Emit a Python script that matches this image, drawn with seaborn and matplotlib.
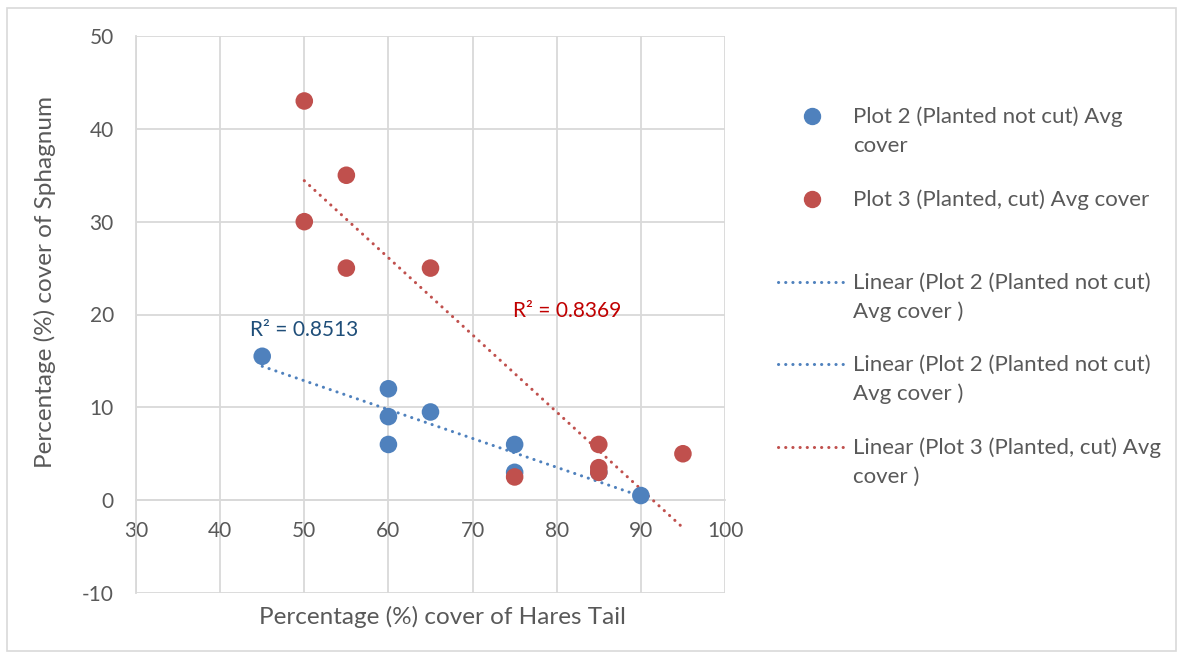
import matplotlib
matplotlib.use("Agg")
import matplotlib.pyplot as plt
import seaborn as sns
import pandas as pd
import numpy as np
from matplotlib.lines import Line2D
from matplotlib.patches import Rectangle

# Data
plot2_x = [45, 60, 60, 60, 65, 75, 75, 85, 90]
plot2_y = [15.5, 12, 9, 6, 9.5, 6, 3, 3, 0.5]
plot3_x = [50, 50, 55, 55, 65, 75, 85, 85, 85, 95]
plot3_y = [43, 30, 35, 25, 25, 2.5, 6, 3.5, 3, 5]
r2_plot2 = "R² = 0.8513"
r2_plot3 = "R² = 0.8369"
x_ticks = [30, 40, 50, 60, 70, 80, 90, 100]
y_ticks = [-10, 0, 10, 20, 30, 40, 50]
legend_labels = [
    "Plot 2 (Planted not cut) Avg\ncover",
    "Plot 3 (Planted, cut) Avg cover",
    "Linear (Plot 2 (Planted not cut)\nAvg cover )",
    "Linear (Plot 2 (Planted not cut)\nAvg cover )",
    "Linear (Plot 3 (Planted, cut) Avg\ncover )",
]

BLUE = "#4F81BD"
RED = "#C0504D"
GRAY = "#595959"
GRID = "#D9D9D9"

sns.set_style("white")
plt.rcParams['font.family'] = ['Lato', 'DejaVu Sans']
plt.rcParams['axes.unicode_minus'] = False

df2 = pd.DataFrame({"x": plot2_x, "y": plot2_y})
df3 = pd.DataFrame({"x": plot3_x, "y": plot3_y})

W, H = 1182, 658
fig = plt.figure(figsize=(W/100, H/100), dpi=100)
ax = fig.add_axes([136/W, 1-593/H, (725-136)/W, (593-36)/H])

dotted = (0, (0.05, 2.3))
sns.regplot(data=df2, x="x", y="y", scatter=False, ci=None, truncate=True, ax=ax,
            line_kws=dict(color=BLUE, lw=2.2, linestyle=dotted, dash_capstyle='round', zorder=3))
sns.regplot(data=df3, x="x", y="y", scatter=False, ci=None, truncate=True, ax=ax,
            line_kws=dict(color=RED, lw=2.2, linestyle=dotted, dash_capstyle='round', zorder=3))
sns.scatterplot(data=df2, x="x", y="y", color=BLUE, s=160, edgecolor="none", ax=ax, zorder=4)
sns.scatterplot(data=df3, x="x", y="y", color=RED, s=160, edgecolor="none", ax=ax, zorder=5)

ax.set_xlim(30, 100)
ax.set_ylim(-10, 50)
ax.set_xticks(x_ticks)
ax.set_yticks(y_ticks)
ax.grid(True, color=GRID, lw=1.3)
ax.set_axisbelow(True)
for s in ["top", "right"]:
    ax.spines[s].set_visible(False)
ax.spines["left"].set_color(GRID)
ax.spines["left"].set_linewidth(1.3)
ax.spines["bottom"].set_position(("data", 0))
ax.spines["bottom"].set_color(GRID)
ax.spines["bottom"].set_linewidth(1.3)
ax.tick_params(axis="both", length=0, labelsize=15, labelcolor=GRAY)
ax.tick_params(axis="x", pad=15)
ax.tick_params(axis="y", pad=16)

ax.set_xlabel("Percentage (%) cover of Hares Tail", fontsize=17.5, color=GRAY)
ax.set_ylabel("Percentage (%) cover of Sphagnum", fontsize=17.5, color=GRAY)
ax.xaxis.set_label_coords(0.52, -0.043)
ax.xaxis.label.set_va("center")
ax.yaxis.set_label_coords(-0.155, 0.558)
ax.yaxis.label.set_va("center")

ax.text(43.6, 18.3, r2_plot2, color="#1F4E79", fontsize=15, va="center", ha="left")
ax.text(74.8, 20.4, r2_plot3, color="#C00000", fontsize=15, va="center", ha="left")

# Legend (drawn manually to mimic Excel layout)
handle_specs = [
    ("marker", BLUE),
    ("marker", RED),
    ("line", BLUE),
    ("line", BLUE),
    ("line", RED),
]
entry_y = [116, 199, 282, 364, 447]
line_gap = 29
for (kind, col), label, ypx in zip(handle_specs, legend_labels, entry_y):
    yf = 1 - ypx / H
    if kind == "marker":
        fig.add_artist(Line2D([812/W], [yf], marker="o", color=col, linestyle="none",
                              markersize=11.5, transform=fig.transFigure))
    else:
        fig.add_artist(Line2D([778/W, 846/W], [yf, yf], color=col, lw=2.2,
                              linestyle=dotted, dash_capstyle='round',
                              transform=fig.transFigure))
    for i, line in enumerate(label.split("\n")):
        fig.text(853/W, 1 - (ypx + i*line_gap + 1)/H, line, fontsize=16, color=GRAY,
                 va="center", ha="left")

fig.patches.append(Rectangle((7/W, 7/H), (1176-7)/W, (650-7)/H,
                             transform=fig.transFigure, fill=False,
                             edgecolor=GRID, lw=1.2))

fig.savefig("out.png", dpi=100)
